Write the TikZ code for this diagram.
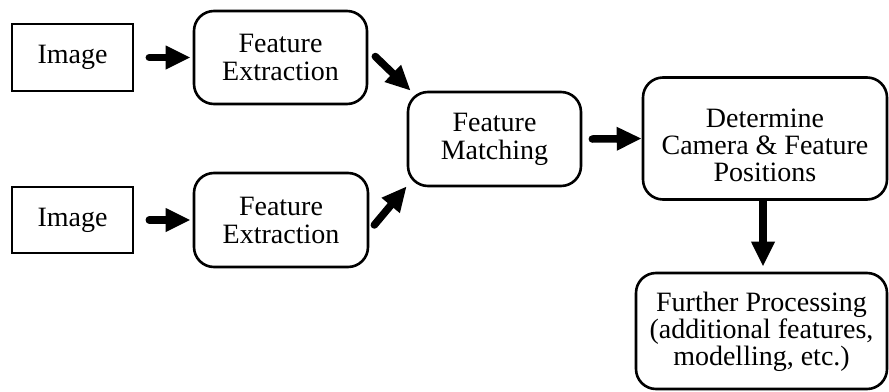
\documentclass[tikz,border=0pt]{standalone}
\usepackage{fontspec}
\setmainfont{Liberation Serif}
\usetikzlibrary{arrows.meta}
\begin{document}
\begin{tikzpicture}[x=1pt,y=-1pt,
  box/.style={draw=black, line width=2.6pt, align=center, inner sep=0pt,
    font=\fontsize{28}{28}\selectfont},
  sqbox/.style={box},
  rbox/.style={box, rounded corners=20pt},
  txt/.style={align=center, inner sep=0pt, font=\fontsize{28}{27}\selectfont},
  fat/.style={line width=7.5pt, -{Triangle[length=25pt,width=22pt]}},
  fatr/.style={fat, line cap=round}]
\useasboundingbox (0,0) rectangle (889,391);
\node[sqbox, minimum width=121pt, minimum height=67pt] (img1) at (72.5,57.5) {Image};
\node[rbox, minimum width=173pt, minimum height=93pt] (fe1) at (280.5,57.5) {Feature\\Extraction};
\node[sqbox, minimum width=121pt, minimum height=66pt] (img2) at (72.5,220) {Image};
\node[rbox, minimum width=174pt, minimum height=94pt] (fe2) at (281,220) {Feature\\Extraction};
\node[rbox, minimum width=173pt, minimum height=94pt] (fm) at (494.5,139) {Feature\\Matching};
\node[rbox, minimum width=244pt, minimum height=122pt] (dc) at (765,138.5) {};
\node[txt] (dct) at ([yshift=-7pt]dc.center) {Determine\\Camera \& Feature\\Positions};
\node[rbox, minimum width=251pt, minimum height=116pt] (fp) at (761.5,331) {};
\node[txt] (fpt) at ([yshift=-1pt]fp.center) {Further Processing\\(additional features,\\modelling, etc.)};
\draw[fatr] ([xshift=15pt]img1.east) -- ([xshift=-2pt]fe1.west);
\draw[fatr] ([xshift=15pt]img2.east) -- ([xshift=-2pt]fe2.west);
\draw[fatr] ([xshift=7pt,yshift=1pt]fe1.east) -- ([xshift=4pt]fm.north west);
\draw[fatr] ([xshift=5pt,yshift=-5pt]fe2.east) -- ([xshift=0pt,yshift=1pt]fm.south west);
\draw[fatr] ([xshift=10pt]fm.east) -- (dc.west);
\draw[fat] ([xshift=-2pt]dc.south) -- ([xshift=-2pt,yshift=5pt]fp.north -| dc.south);
\end{tikzpicture}
\end{document}
